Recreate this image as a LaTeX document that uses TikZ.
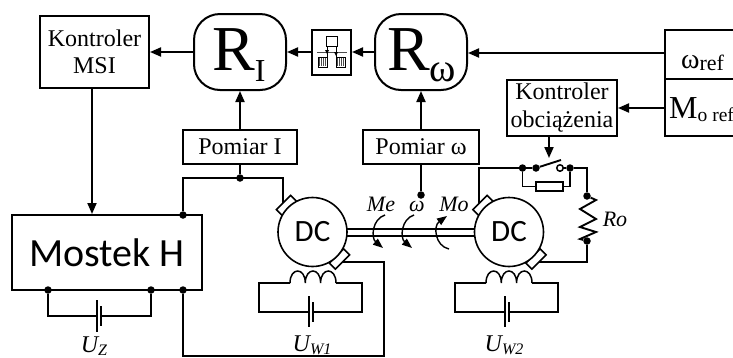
\documentclass[tikz,border=0pt]{standalone}
\usepackage{fontspec}
\setmainfont{Liberation Serif}
\newfontfamily\calib{Carlito}
\usetikzlibrary{arrows.meta,backgrounds,calc}
\newcommand{\fsz}[1]{\fontsize{#1}{#1}\selectfont}
\tikzset{
  x=1pt,y=-1pt,
  wire/.style={line width=1.9pt,line join=miter},
  arr/.style={line width=1.9pt,-{Triangle[length=11pt,width=9pt]},shorten >=1pt},
  spin/.style={line width=1.4pt,-{Triangle[length=10pt,width=7.5pt]}},
  thinwire/.style={line width=1.5pt},
  boxn/.style={draw,line width=2pt,inner sep=0pt,outer sep=0pt,align=center,font=\fsz{24}},
  regn/.style={boxn,rounded corners=26pt,minimum width=92pt,minimum height=76pt,fill=white},
  dotn/.style={circle,fill=black,draw=none,minimum size=7.5pt,inner sep=0pt},
  brush/.style={draw,fill=white,line width=1.6pt,rotate=45,minimum width=20pt,minimum height=8.5pt,inner sep=0pt},
  motor/.style={circle,draw,fill=white,line width=1.6pt,minimum size=69pt,inner sep=0pt,font=\calib\fsz{31}},
  lab/.style={font=\itshape\fsz{22},anchor=base,inner sep=0pt},
  plate/.style={line width=1.8pt},
}
\begin{document}
\begin{tikzpicture}
\useasboundingbox (0,0) rectangle (733,357);
\clip (0,0) rectangle (733,357);
% blocks
\node[boxn,minimum width=109pt,minimum height=72pt] (msi) at (94.5,52) {Kontroler\\[3pt]MSI};
\node[regn] (ri) at (240,52) {};
\node[anchor=base west,inner sep=0pt,font=\fsz{64}] (ritxt) at (212,70.5) {R\raisebox{-11pt}{\fsz{32}I}};
\node[boxn,minimum width=39pt,minimum height=45pt] (ic) at (331.5,52) {};
\node[regn] (rw) at (421,52) {};
\node[anchor=base west,inner sep=0pt,font=\fsz{64}] (rwtxt) at (387,70.5) {R\raisebox{-11pt}{\fsz{40}ω}};
\node[boxn,minimum width=80pt,minimum height=49pt] (wref) at (705,54.5) {};
\node[boxn,minimum width=80pt,minimum height=57pt] (mref) at (705,107.5) {};
\node[anchor=base west,inner sep=0pt,font=\fsz{28}] (wtxt) at (681,68) {ω\fsz{22}\raisebox{-2pt}{ref}};
\node[anchor=base west,inner sep=0pt,font=\fsz{32}] (mtxt) at (669,118) {M\fsz{19.5}\raisebox{-3pt}{o ref}};
\node[boxn,minimum width=110pt,minimum height=56pt] (ko) at (562,108) {Kontroler\\[4pt]obciążenia};
\node[boxn,minimum width=114pt,minimum height=34pt] (pi) at (240,147) {Pomiar I};
\node[boxn,minimum width=116pt,minimum height=34pt] (pw) at (421,147) {Pomiar ω};
\node[boxn,minimum width=190pt,minimum height=75pt,font=\calib\fsz{40}] (mh) at (107,252.5) {Mostek H};
% icon
\node[draw,line width=.9pt,minimum width=11pt,minimum height=10pt,inner sep=0pt] (ics) at (331.5,41) {};
\draw[line width=.7pt,draw=black!70] (317,52) -- (347,52);
\node[draw,line width=.7pt,minimum width=9pt,minimum height=10pt,inner sep=0pt] (icl) at (322.5,62) {};
\node[draw,line width=.7pt,minimum width=9pt,minimum height=10pt,inner sep=0pt] (icr) at (341,62) {};
\foreach \i in {0,2,4,6}{\draw[line width=.6pt,black!70] (319+\i,58) -- (319+\i,66); \draw[line width=.6pt,black!70] (337.5+\i,58) -- (337.5+\i,66);}
\draw[line width=.8pt] (327,46) -- (327,57);
\draw[line width=.8pt] (336,46) -- (336,57);
\fill (325,50) -- (329,50) -- (327,54) -- cycle;
\fill (334,52) -- (338,52) -- (336,56) -- cycle;
% block arrows
\draw[arr] (ri.west) -- (msi.east);
\draw[arr] (ic.west) -- (ri.east);
\draw[arr] (rw.west) -- (ic.east);
\draw[arr] ([yshift=-1pt]wref.west |- rw.east) -- ([yshift=-1pt]rw.east);
\draw[arr] (mref.west |- ko.east) -- (ko.east);
\draw[arr] (pi.north) -- (ri.south);
\draw[arr] (pw.north) -- (rw.south);
\draw[arr] (msi.south -| 92,0) -- (mh.north -| 92,0);
% dots
\node[dotn] (d1) at (240,178) {};
\node[dotn] (d2) at (183,215) {};
\node[dotn] (d3) at (48,290) {};
\node[dotn] (d4) at (151,290) {};
\node[dotn] (d5) at (183,290) {};
\node[dotn] (d6) at (421,195) {};
\node[dotn] (s1) at (522.5,168) {};
\node[dotn] (s2) at (536,168) {};
\node[circle,draw,line width=1.5pt,minimum size=6.5pt,inner sep=0pt] (s3) at (560,168) {};
\node[dotn] (s4) at (570,168) {};
\node[dotn] (r1) at (587,196) {};
\node[dotn] (r2) at (587,241) {};
% motors
\node[brush] (b1a) at (286.5,205.5) {};
\node[brush] (b1b) at (339.5,259) {};
\node[brush] (b2a) at (483,205.5) {};
\node[brush] (b2b) at (536,259) {};
\node[motor] (m1) at (312.5,232) {DC};
\node[motor] (m2) at (509,232) {DC};
% wires behind the motors
\begin{scope}[on background layer]
\draw[wire] (d2) -- (183,178) -- (283,178) -- ([xshift=-3.5pt]b1a.center);
\draw[wire] (pi.south) -- (d1);
\draw[thinwire] (d5) -- (183,356) -- (384,356) -- (384,262) -- ([yshift=-3pt]b1b.center);
\draw[thinwire] (m1.center) ++(0,-3) -- ++(196.5,0);
\draw[wire] (m1.center) ++(0,4) -- ++(196.5,0);
\draw[wire] (pw.south) -- (d6);
\draw[wire] ([xshift=-4pt]b2a.center) -- (479,168) -- (s1) -- (s2);
\draw[wire] (s3) -- (s4) -- (587,168) -- (r1);
\draw[wire] (r2) -- (587,262) -- ([yshift=-3pt]b2b.center);
\end{scope}
% switch and its resistor
\draw[wire] (s2) -- (561,160);
\draw[arr] (ko.south -| 549,0) -- (549,159);
\node[draw,fill=white,line width=1.5pt,minimum width=27pt,minimum height=9pt,inner sep=0pt] (rb) at (549.5,186.5) {};
\draw[thinwire] (s1) |- (rb.west);
\draw[thinwire] (s4) |- (rb.east);
% load resistor
\draw[wire,line join=miter] (r1) -- (596,200) -- (580,209) -- (596,219) -- (580,227) -- (596,232) -- (580,239) -- (r2);
% battery Uz
\coordinate (bz) at (97,316);
\draw[wire] (d3) |- (bz) ;
\draw[wire] (d4) |- ([xshift=4pt]bz);
\draw[plate] (97,300) -- (97,332);
\draw[line width=2.4pt] (101,306) -- (101,326);
% coils and field batteries
\foreach \ox in {0,196}{
  \begin{scope}[xshift=\ox pt]
  \draw[wire] (290,283) -- (259,283) -- (259,312) -- (309,312);
  \draw[wire] (313,312) -- (362,312) -- (362,283) -- (336,283);
  \draw[thinwire] (290,283) .. controls (290,267) and (305.3,267) .. (305.3,283)
    .. controls (305.3,267) and (320.6,267) .. (320.6,283)
    .. controls (320.6,267) and (336,267) .. (336,283);
  \draw[plate] (309,296) -- (309,327);
  \draw[line width=2.4pt] (313,302) -- (313,322);
  \end{scope}
}
% torque arrows
\draw[spin] (385,215) .. controls (372,219) and (371,238) .. (383,248);
\draw[spin] (414,215) .. controls (401,219) and (400,238) .. (412,248);
\draw[spin] (449,249) .. controls (435,246) and (433,226) .. (447,216);
% labels
\node[lab] (lme) at (381,211) {Me};
\node[lab] (lw) at (417,211) {ω};
\node[lab] (lmo) at (454,211) {Mo};
\node[lab] (lro) at (615,226) {Ro};
\node[anchor=base,inner sep=0pt,font=\itshape\fsz{24}] (uz) at (94,352) {U\fsz{16}\raisebox{-3pt}{Z}};
\node[anchor=base,inner sep=0pt,font=\itshape\fsz{24}] (u1) at (312,351) {U\fsz{16}\raisebox{-3pt}{W1}};
\node[anchor=base,inner sep=0pt,font=\itshape\fsz{24}] (u2) at (504,351) {U\fsz{16}\raisebox{-3pt}{W2}};
\end{tikzpicture}
\end{document}
